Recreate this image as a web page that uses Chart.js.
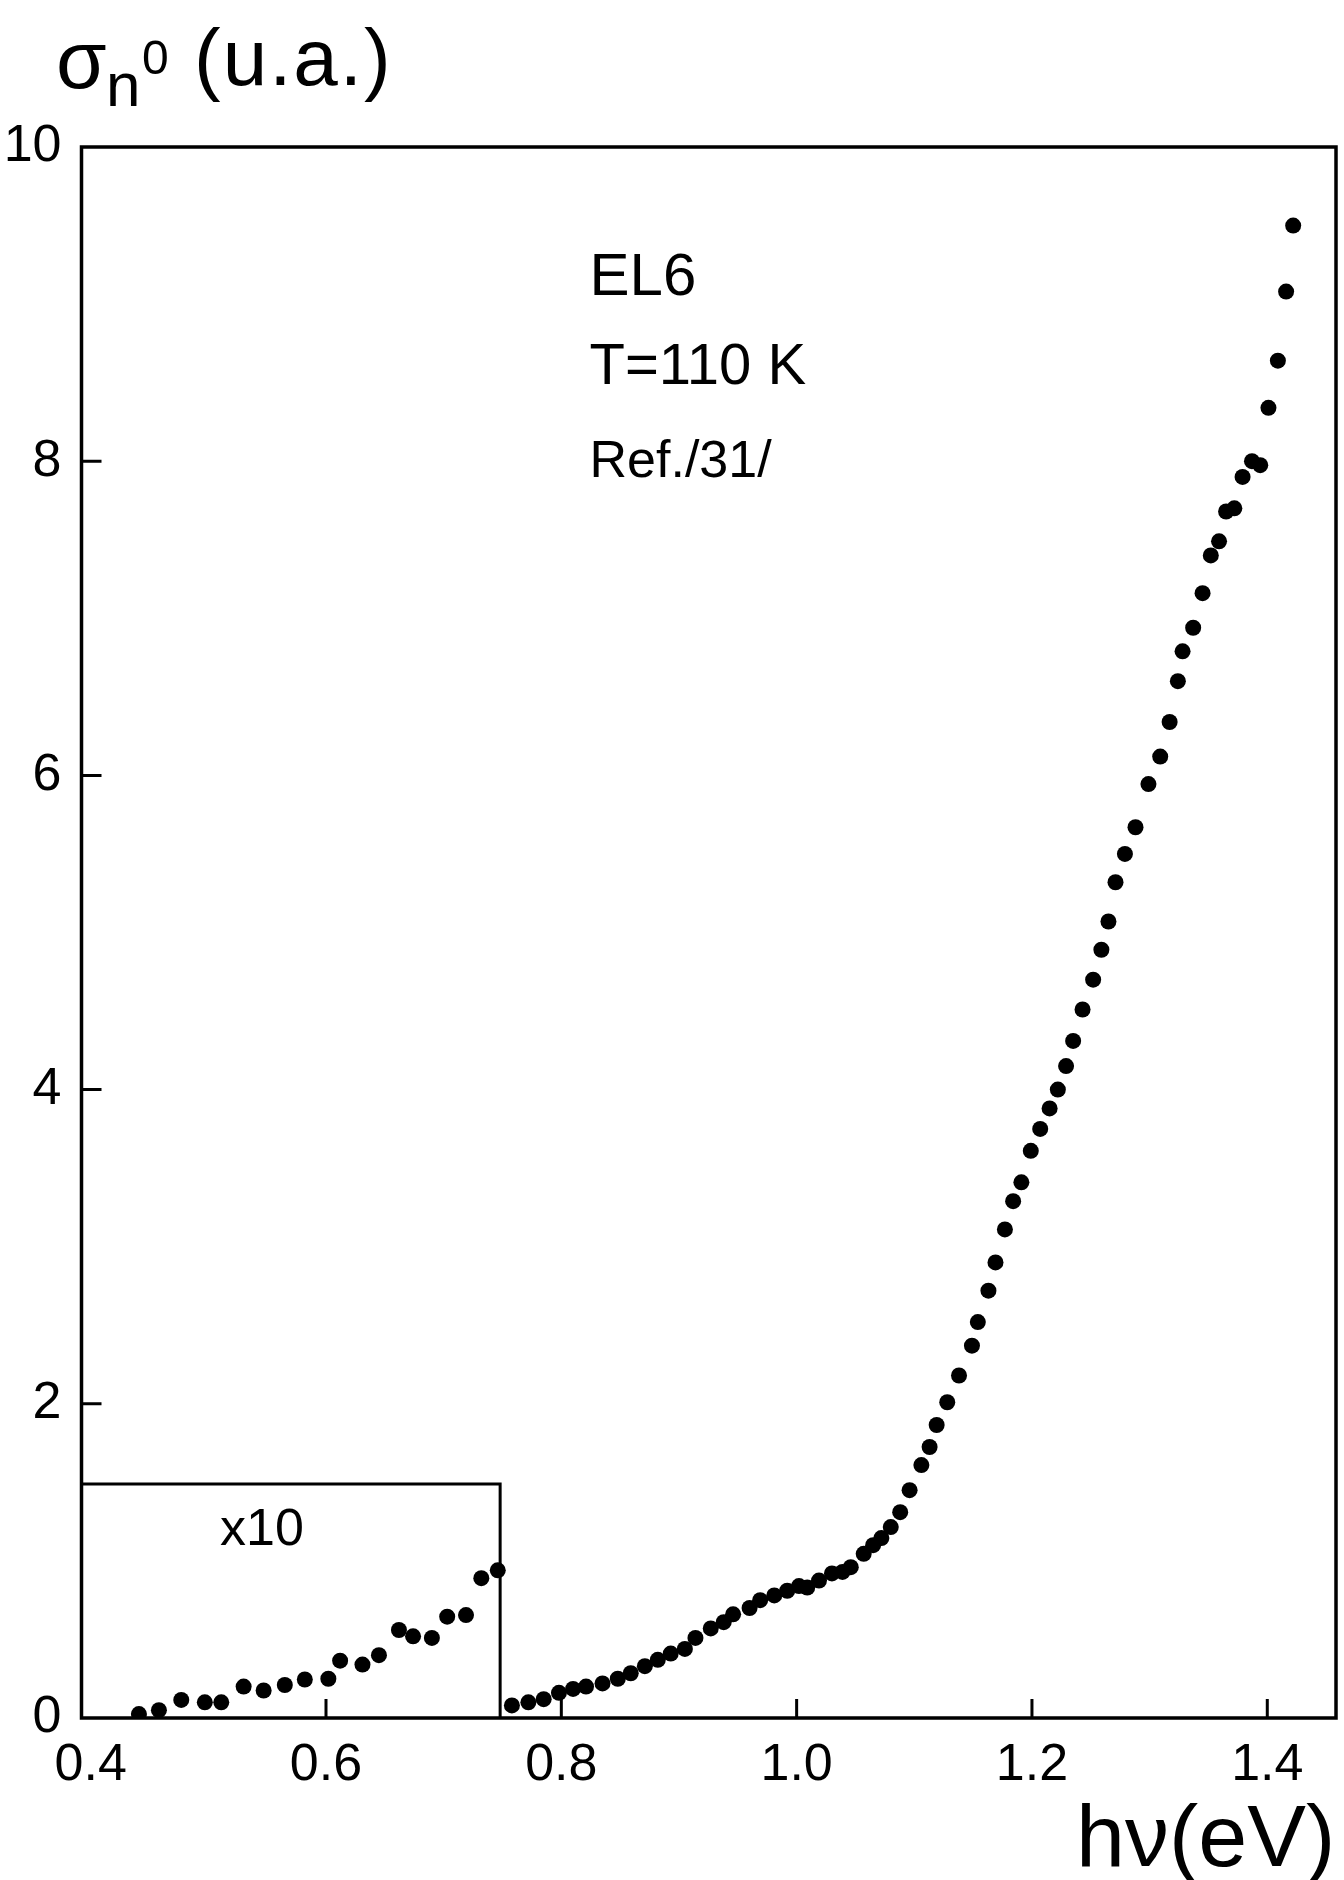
<!DOCTYPE html>
<html>
<head>
<meta charset="utf-8">
<title>EL6 cross-section</title>
<script src="https://cdn.jsdelivr.net/npm/chart.js@4/dist/chart.umd.min.js"></script>
<style>
  html, body { margin: 0; padding: 0; background: #fff; }
  #wrap { width: 1344px; height: 1880px; position: relative; }
</style>
</head>
<body>
<div id="wrap"><canvas id="sigmaChart"></canvas></div>
<script>
// photon energy (eV) / cross-section (u.a.), main spectrum
const energyMain = [0.758, 0.772, 0.785, 0.798, 0.810, 0.821, 0.835, 0.848, 0.859, 0.871,
  0.882, 0.893, 0.905, 0.914, 0.927, 0.938, 0.946, 0.960, 0.969, 0.981,
  0.992, 1.002, 1.009, 1.019, 1.030, 1.039, 1.046, 1.057, 1.065, 1.072,
  1.080, 1.088, 1.096, 1.106, 1.113, 1.119, 1.128, 1.138, 1.149, 1.154,
  1.163, 1.169, 1.177, 1.184, 1.191, 1.199, 1.207, 1.215, 1.222, 1.229,
  1.235, 1.243, 1.252, 1.259, 1.265, 1.271, 1.279, 1.288, 1.299, 1.309,
  1.317, 1.324, 1.328, 1.337, 1.345, 1.352, 1.359, 1.365, 1.372, 1.379,
  1.387, 1.394, 1.401, 1.409, 1.416, 1.422];
const sigmaMain = [0.08, 0.10, 0.12, 0.16, 0.185, 0.20, 0.22, 0.25, 0.285, 0.33,
  0.37, 0.41, 0.44, 0.51, 0.57, 0.61, 0.66, 0.70, 0.75, 0.78,
  0.81, 0.84, 0.83, 0.875, 0.92, 0.93, 0.96, 1.045, 1.10, 1.145,
  1.215, 1.31, 1.45, 1.61, 1.725, 1.865, 2.01, 2.18, 2.37, 2.52,
  2.72, 2.90, 3.11, 3.29, 3.41, 3.61, 3.75, 3.88, 4.00, 4.15,
  4.31, 4.51, 4.70, 4.89, 5.07, 5.32, 5.50, 5.67, 5.945, 6.12,
  6.34, 6.60, 6.79, 6.94, 7.16, 7.40, 7.49, 7.68, 7.70, 7.90,
  8.00, 7.975, 8.34, 8.64, 9.08, 9.50];

// low-energy tail, plotted magnified x10 inside the box
const energyLow = [0.441, 0.458, 0.477, 0.497, 0.511, 0.530, 0.547, 0.565, 0.582, 0.602,
  0.612, 0.631, 0.645, 0.662, 0.674, 0.690, 0.703, 0.719, 0.732, 0.746];
const sigmaLowX10 = [0.025, 0.05, 0.115, 0.10, 0.10, 0.20, 0.175, 0.21, 0.245, 0.25,
  0.365, 0.34, 0.40, 0.56, 0.52, 0.51, 0.645, 0.655, 0.89, 0.94];

const xTickValues = [0.4, 0.6, 0.8, 1.0, 1.2, 1.4];
const xMarkValues = [0.6, 0.8, 1.0, 1.2, 1.4];
const yMarkValues = [2, 4, 6, 8];
const zoomBoxEnergy = 0.748;
const zoomBoxSigma = 1.49;
const zoomLabel = 'x10';
const noteLines = ['EL6', 'T=110 K', 'Ref./31/'];

const FONT = "'Liberation Sans', Arial, sans-serif";

function toPoints(xs, ys) {
  return xs.map((x, i) => ({ x: x, y: ys[i] }));
}

// frame, inward ticks, x10 box, annotations and axis titles
const decorations = {
  id: 'decorations',
  afterDatasetsDraw(chart) {
    const ctx = chart.ctx;
    const { left, top, right, bottom } = chart.chartArea;
    const xs = chart.scales.x;
    const ys = chart.scales.y;

    ctx.save();
    ctx.strokeStyle = '#000';
    ctx.fillStyle = '#000';

    ctx.lineWidth = 3.5;
    ctx.strokeRect(left, top, right - left, bottom - top);

    // ticks point into the plot
    ctx.lineWidth = 3;
    ctx.beginPath();
    xMarkValues.forEach(v => {
      const px = xs.getPixelForValue(v);
      ctx.moveTo(px, bottom);
      ctx.lineTo(px, bottom - 19);
    });
    yMarkValues.forEach(v => {
      const py = ys.getPixelForValue(v);
      ctx.moveTo(left, py);
      ctx.lineTo(left + 20, py);
    });
    ctx.stroke();

    // magnified region
    const bx = xs.getPixelForValue(zoomBoxEnergy);
    const by = ys.getPixelForValue(zoomBoxSigma);
    ctx.lineWidth = 3;
    ctx.beginPath();
    ctx.moveTo(left, by);
    ctx.lineTo(bx, by);
    ctx.lineTo(bx, bottom);
    ctx.stroke();

    ctx.textAlign = 'left';
    ctx.textBaseline = 'alphabetic';
    ctx.font = '52px ' + FONT;
    ctx.fillText(zoomLabel, xs.getPixelForValue(0.510), ys.getPixelForValue(1.10));

    // sample notes
    const noteX = xs.getPixelForValue(0.824);
    ctx.font = '60px ' + FONT;
    ctx.fillText(noteLines[0], noteX, ys.getPixelForValue(9.06));
    ctx.font = '58px ' + FONT;
    ctx.fillText(noteLines[1], noteX, ys.getPixelForValue(8.49));
    ctx.font = '52px ' + FONT;
    ctx.fillText(noteLines[2], noteX, ys.getPixelForValue(7.90));

    // y title: sigma_n^0 (u.a.)
    ctx.font = '82px ' + FONT;
    ctx.fillText('σ', 56, 88);
    ctx.font = '62px ' + FONT;
    ctx.fillText('n', 106, 106);
    ctx.font = '48px ' + FONT;
    ctx.fillText('0', 142, 74);
    ctx.font = '80px ' + FONT;
    ctx.letterSpacing = '2px';
    ctx.fillText('(u.a.)', 194, 85);
    ctx.letterSpacing = '0px';

    // x title
    ctx.font = '88px ' + FONT;
    ctx.fillText('hν(eV)', 1076, 1866);

    ctx.restore();
  }
};

const ctx = document.getElementById('sigmaChart').getContext('2d');
new Chart(ctx, {
  type: 'scatter',
  data: {
    datasets: [
      {
        label: 'σn0',
        data: toPoints(energyMain, sigmaMain),
        pointRadius: 8,
        pointBackgroundColor: '#000',
        pointBorderWidth: 0
      },
      {
        label: 'σn0 x10',
        data: toPoints(energyLow, sigmaLowX10),
        pointRadius: 8,
        pointBackgroundColor: '#000',
        pointBorderWidth: 0
      }
    ]
  },
  options: {
    responsive: true,
    maintainAspectRatio: false,
    animation: false,
    layout: { padding: { top: 147, right: 3, bottom: 0, left: 0 } },
    plugins: {
      legend: { display: false },
      tooltip: { enabled: false }
    },
    scales: {
      x: {
        type: 'linear',
        min: 0.3922,
        max: 1.4584,
        grid: { display: false, drawTicks: false },
        border: { display: false },
        ticks: {
          color: '#000',
          font: { family: FONT, size: 52 },
          padding: 16,
          maxRotation: 0,
          autoSkip: false,
          callback: v => v.toFixed(1)
        },
        afterBuildTicks: scale => {
          scale.ticks = xTickValues.map(v => ({ value: v }));
        },
        afterFit: scale => { scale.height = 162; }
      },
      y: {
        min: 0,
        max: 10,
        grid: { display: false, drawTicks: false },
        border: { display: false },
        ticks: {
          color: '#000',
          font: { family: FONT, size: 52 },
          padding: 20,
          stepSize: 2
        },
        afterFit: scale => { scale.width = 81.5; }
      }
    }
  },
  plugins: [decorations]
});
</script>
</body>
</html>
